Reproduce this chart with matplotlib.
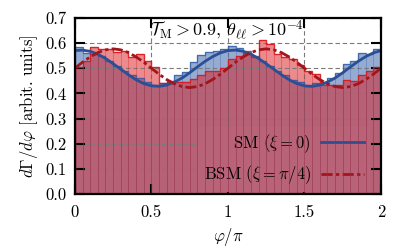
import matplotlib
matplotlib.use("Agg")
import matplotlib.pyplot as plt
import numpy as np

# Histogram: 40 bins over phi/pi in [0, 2]
bin_edges = np.linspace(0.0, 2.0, 41)
sm_hist = [0.585, 0.560, 0.555, 0.550, 0.530, 0.510, 0.490, 0.475, 0.460, 0.445,
           0.435, 0.440, 0.445, 0.472, 0.485, 0.525, 0.552, 0.565, 0.570, 0.578,
           0.589, 0.580, 0.570, 0.550, 0.530, 0.510, 0.490, 0.475, 0.455, 0.445,
           0.430, 0.440, 0.435, 0.460, 0.480, 0.515, 0.530, 0.560, 0.555, 0.575]
bsm_hist = [0.505, 0.530, 0.585, 0.575, 0.575, 0.565, 0.570, 0.545, 0.555, 0.530,
            0.505, 0.440, 0.450, 0.445, 0.445, 0.459, 0.472, 0.490, 0.490, 0.500,
            0.535, 0.550, 0.560, 0.545, 0.611, 0.598, 0.558, 0.545, 0.538, 0.512,
            0.490, 0.477, 0.445, 0.432, 0.435, 0.452, 0.450, 0.472, 0.490, 0.505]

# Fitted curves, sampled every 0.05 in phi/pi
curve_x = np.linspace(0.0, 2.0, 41)
sm_period = [0.570, 0.572, 0.567, 0.556, 0.539, 0.518, 0.496, 0.474, 0.454, 0.439,
             0.430, 0.428, 0.433, 0.445, 0.461, 0.482, 0.505, 0.527, 0.546, 0.561]
bsm_period = [0.500, 0.524, 0.545, 0.562, 0.573, 0.577, 0.573, 0.562, 0.545, 0.524,
              0.500, 0.476, 0.455, 0.438, 0.427, 0.423, 0.427, 0.438, 0.455, 0.476]
sm_curve = sm_period + sm_period + [0.570]
bsm_curve = bsm_period + bsm_period + [0.500]

x_ticks = [0, 0.5, 1, 1.5, 2]
x_tick_labels = ["0", "0.5", "1", "1.5", "2"]
y_ticks = [0.0, 0.1, 0.2, 0.3, 0.4, 0.5, 0.6, 0.7]

BLUE = (45 / 255, 89 / 255, 165 / 255)
RED = (217 / 255, 25 / 255, 29 / 255)
OVERLAP = "#b86378"

plt.rcParams["font.family"] = "serif"
plt.rcParams["font.serif"] = ["cmr10", "DejaVu Serif"]
plt.rcParams["mathtext.fontset"] = "cm"
plt.rcParams["axes.formatter.use_mathtext"] = True
plt.rcParams["font.size"] = 12

fig = plt.figure(figsize=(4.07, 2.52), dpi=100)
ax = fig.add_axes([0.184, 0.230, 0.752, 0.699])

ax.grid(True, color="#7a7a7a", linestyle=(0, (4, 2.5)), linewidth=0.8)
ax.set_axisbelow("line")

width = bin_edges[1] - bin_edges[0]
# filled bars
ax.bar(bin_edges[:-1], sm_hist, width=width, align="edge",
       color=BLUE + (0.5,), linewidth=0, zorder=1)
ax.bar(bin_edges[:-1], bsm_hist, width=width, align="edge",
       color=RED + (0.5,), linewidth=0, zorder=1.1)
# faint bin edges + step outlines
ax.bar(bin_edges[:-1], sm_hist, width=width, align="edge", fill=False,
       edgecolor=BLUE + (0.2,), linewidth=0.6, zorder=1.7)
ax.bar(bin_edges[:-1], bsm_hist, width=width, align="edge", fill=False,
       edgecolor=RED + (0.22,), linewidth=0.6, zorder=1.7)
ax.stairs(sm_hist, bin_edges, color=BLUE + (0.75,), linewidth=1.0, zorder=1.8)
ax.stairs(bsm_hist, bin_edges, color=RED + (0.9,), linewidth=1.0, zorder=1.9)

ax.plot(curve_x, sm_curve, color="#2a4f94", linewidth=2.0, label=r"SM ($\xi=0$)",
        zorder=3)
ax.plot(curve_x, bsm_curve, color="#a3151b", linewidth=2.0,
        linestyle=(0, (4, 1.2, 1.2, 1.2)), label=r"BSM ($\xi=\pi/4$)", zorder=3)

ax.text(0.99, 0.648, r"$\mathcal{T}_\mathrm{M} > 0.9$, $\theta_{\ell\ell} > 10^{-4}$",
        ha="center", va="center", fontsize=13, zorder=4)

ax.set_xlim(0, 2)
ax.set_ylim(0, 0.7)
ax.set_xticks(x_ticks)
ax.set_xticklabels(x_tick_labels)
ax.set_yticks(y_ticks)
ax.set_yticklabels([f"{v:.1f}" for v in y_ticks])
ax.tick_params(direction="in", length=7, width=1.5, top=True, right=True, pad=6)
ax.tick_params(axis="x", pad=8)
for s in ax.spines.values():
    s.set_linewidth(1.6)
    s.set_zorder(5)

ax.set_xlabel(r"$\varphi/\pi$", fontsize=12)
ax.set_ylabel(r"$d\Gamma/d\varphi$ [arbit. units]", fontsize=12)

leg = ax.legend(loc="lower right", frameon=True, facecolor=OVERLAP, edgecolor="none",
                framealpha=1.0, fancybox=False, markerfirst=False, handlelength=2.6,
                handletextpad=0.6, bbox_to_anchor=(0.965, 0.01), borderaxespad=0.0,
                borderpad=0.35, labelspacing=0.5)
leg.set_zorder(1.6)

fig.savefig("out.png", dpi=100)
